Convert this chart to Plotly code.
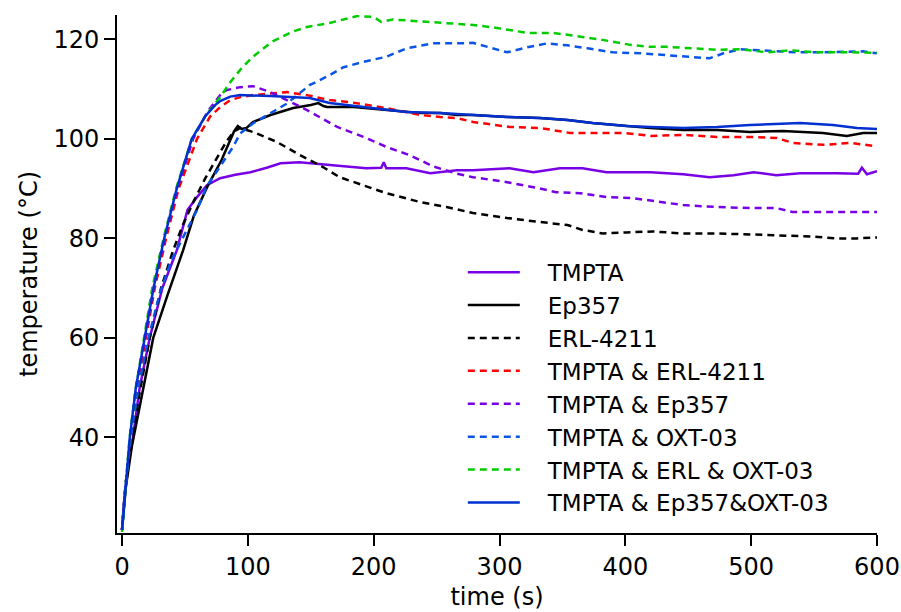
import plotly.graph_objects as go

# Temperature profiles of the photopolymerised formulations
t_tmpta = [0, 2, 5, 8.7, 14, 22, 32, 43.5, 52, 59.6, 67.5, 78, 90, 102, 115, 126, 141, 165, 194, 206,
           208, 210, 226, 245, 266, 279, 308, 327, 348, 366, 385, 401, 420, 446, 467, 486, 502, 520,
           539, 568, 585, 588, 592, 600]
T_tmpta = [21.4, 28, 34.5, 40, 50, 60, 70, 77.6, 85.7, 88.3, 90.7, 92.1, 92.8, 93.3, 94.2, 95.1, 95.3,
           94.7, 94.1, 94.2, 95.3, 94.1, 94.1, 93.1, 93.7, 93.7, 94.1, 93.3, 94.1, 94.1, 93.3, 93.3,
           93.3, 92.9, 92.3, 92.7, 93.3, 92.7, 93.1, 93.1, 93.0, 94.2, 92.9, 93.5]

t_ep357 = [0, 3, 8, 16.8, 24.8, 36, 48.5, 57, 68, 79, 86, 89, 92, 95, 99, 104, 118, 136, 150, 156, 160,
           163, 184, 210, 237, 253, 266, 279, 306, 332, 354, 374, 401, 420, 446, 473, 499, 525, 557,
           576, 589, 600]
T_ep357 = [21.4, 30, 38.5, 50, 60, 68.5, 77.6, 84.5, 90.5, 95.7, 100, 101.5, 102.6, 102.0, 102.2, 103.4,
           104.8, 106.2, 106.8, 107.2, 106.6, 106.4, 106.4, 105.8, 105.2, 105.2, 104.8, 104.8, 104.4,
           104.2, 103.8, 103.2, 102.6, 102.2, 101.8, 101.8, 101.4, 101.6, 101.2, 100.6, 101.2, 101.2]

t_erl = [0, 3, 8, 14, 22, 31, 40.6, 48, 57, 66, 75, 83, 89, 94, 104, 123, 141, 160, 173, 192, 210, 237,
         258, 279, 306, 332, 354, 366, 382, 401, 422, 446, 473, 499, 525, 547, 568, 584, 600]
T_erl = [21.4, 31, 40, 49, 60, 70, 77.6, 82.5, 87.5, 92, 96, 99.5, 101.5, 102.2, 101.4, 99.4, 96.8, 94.3,
         92.3, 90.7, 89.1, 87.3, 86.3, 85.1, 84.1, 83.3, 82.7, 81.7, 81.0, 81.2, 81.4, 81.0, 81.0, 80.8,
         80.6, 80.4, 80.0, 80.0, 80.2]

t_tmpta_erl = [0, 2, 6.8, 12, 19, 26, 35, 45, 59.6, 70, 78, 86, 94, 104, 131, 147, 165, 181, 210, 237,
               253, 266, 279, 308, 332, 356, 377, 398, 420, 446, 473, 499, 520, 533, 557, 579, 600]
T_tmpta_erl = [21.4, 28, 40, 50, 60, 70, 80, 90, 100, 104.5, 106.4, 107.8, 108.4, 108.8, 109.4, 108.8,
               107.8, 107.4, 106.2, 104.8, 104.4, 104.2, 103.4, 102.4, 102.2, 101.2, 101.2, 101.2,
               100.6, 100.8, 100.4, 100.4, 100.2, 99.2, 98.8, 99.2, 98.5]

t_tmpta_ep = [0, 2, 6.4, 11, 18.3, 25, 34, 44, 56.5, 68, 78, 83, 94, 104, 118, 131, 147, 171, 192, 210,
              229, 247, 266, 279, 306, 327, 345, 364, 385, 406, 425, 446, 473, 499, 520, 533, 557, 579,
              600]
T_tmpta_ep = [21.4, 28, 40, 50, 60, 70, 80, 90, 100, 105.5, 108.8, 109.8, 110.4, 110.6, 109.4, 107.8,
              105.8, 102.4, 100.4, 98.4, 96.7, 94.5, 93.0, 92.3, 91.3, 90.3, 89.3, 89.1, 88.3, 88.1,
              87.5, 86.7, 86.3, 86.1, 86.1, 85.3, 85.3, 85.3, 85.3]

t_tmpta_oxt = [0, 2, 7, 13, 21, 30, 39, 48, 59.6, 67, 78, 88, 94, 104, 131, 149, 165, 176, 192, 210, 226,
               247, 266, 279, 306, 322, 338, 354, 370, 390, 412, 435, 454, 467, 478, 491, 507, 536,
               557, 589, 600]
T_tmpta_oxt = [21.4, 28.5, 40, 50, 60, 69, 75.5, 80, 85.7, 90.3, 94.5, 98.3, 101.1, 103.1, 107.1, 110.8,
               112.8, 114.4, 115.5, 116.5, 118.2, 119.2, 119.2, 119.3, 117.4, 118.4, 119.2, 118.8,
               118.2, 117.4, 117.2, 116.8, 116.4, 116.2, 117.2, 118.0, 117.8, 117.4, 117.4, 117.6,
               117.2]

t_tmpta_erl_oxt = [0, 2, 6, 11, 17.5, 24, 33, 43, 55.4, 66, 72, 78, 86, 95, 104, 119, 135, 147, 165,
                   187, 200, 206, 215, 234, 263, 279, 298, 322, 343, 364, 382, 404, 420, 433, 454, 473,
                   491, 513, 531, 552, 579, 600]
T_tmpta_erl_oxt = [21.0, 28, 40, 50, 60, 70, 80, 90, 100, 104.5, 106.5, 108.4, 111.4, 114.2, 116.5,
                   119.5, 121.5, 122.5, 123.3, 124.7, 124.5, 123.5, 124, 123.7, 123.1, 122.9, 122.3,
                   121.3, 121.3, 120.5, 119.9, 118.9, 118.5, 118.5, 118.2, 117.9, 118, 117.4, 117.8,
                   117.4, 117.4, 117.3]

t_tmpta_ep_oxt = [0, 2, 6.2, 11, 18, 25, 33.5, 43.5, 55.4, 66, 74, 78, 86, 94, 118, 149, 165, 197, 226,
                  253, 266, 279, 306, 332, 354, 374, 401, 420, 446, 473, 499, 539, 565, 584, 600]
T_tmpta_ep_oxt = [21.4, 28, 40, 50, 60, 70, 80, 90, 100, 104.5, 106.8, 107.6, 108.5, 108.8, 108.6,
                  108.2, 107.2, 106.2, 105.4, 105.2, 105, 104.8, 104.4, 104.2, 103.8, 103.2, 102.6,
                  102.4, 102.2, 102.4, 102.8, 103.2, 102.8, 102.2, 102.0]

x_ticks = [0, 100, 200, 300, 400, 500, 600]
y_ticks = [40, 60, 80, 100, 120]

PURPLE = "#7800e6"
DASH = "7px,5px"

series = [
    ("TMPTA", t_tmpta, T_tmpta, PURPLE, "solid"),
    ("Ep357", t_ep357, T_ep357, "#000000", "solid"),
    ("ERL-4211", t_erl, T_erl, "#000000", DASH),
    ("TMPTA & ERL-4211", t_tmpta_erl, T_tmpta_erl, "#ff0000", DASH),
    ("TMPTA & Ep357", t_tmpta_ep, T_tmpta_ep, PURPLE, DASH),
    ("TMPTA & OXT-03", t_tmpta_oxt, T_tmpta_oxt, "#0a55e6", DASH),
    ("TMPTA & ERL & OXT-03", t_tmpta_erl_oxt, T_tmpta_erl_oxt, "#00cc00", DASH),
    ("TMPTA & Ep357&OXT-03", t_tmpta_ep_oxt, T_tmpta_ep_oxt, "#0030d0", "solid"),
]

# a leading em space widens the gap between the legend sample and its label
LABEL_PAD = "\u2003"

fig = go.Figure()
for name, t, T, color, dash in series:
    fig.add_trace(go.Scatter(x=t, y=T, mode="lines", name=LABEL_PAD + name,
                             line=dict(color=color, width=2.5, dash=dash)))

FONT = "DejaVu Sans"
axis_common = dict(showline=True, linecolor="black", linewidth=2, ticks="outside",
                   ticklen=11, tickwidth=2, tickcolor="black", showgrid=False,
                   zeroline=False, mirror=False, automargin=False,
                   tickfont=dict(family=FONT, size=24, color="black"))

fig.update_xaxes(range=[-4, 600], tickvals=x_ticks,
                 title=dict(text="time (s)", font=dict(family=FONT, size=24, color="black"),
                            standoff=8),
                 **axis_common)
fig.update_yaxes(range=[20.8, 124.9], tickvals=y_ticks,
                 title=dict(text="temperature (°C)", font=dict(family=FONT, size=24, color="black"),
                            standoff=9),
                 **axis_common)

fig.update_layout(
    width=901, height=612,
    margin=dict(l=117, r=24, t=15, b=79),
    plot_bgcolor="white", paper_bgcolor="white",
    font=dict(family=FONT, size=24, color="black"),
    legend=dict(x=0.455, y=0.545, xanchor="left", yanchor="top",
                bgcolor="rgba(0,0,0,0)", borderwidth=0,
                font=dict(family=FONT, size=23, color="black"),
                itemwidth=52, tracegroupgap=0),
    showlegend=True,
)

fig.write_html("out.html")
